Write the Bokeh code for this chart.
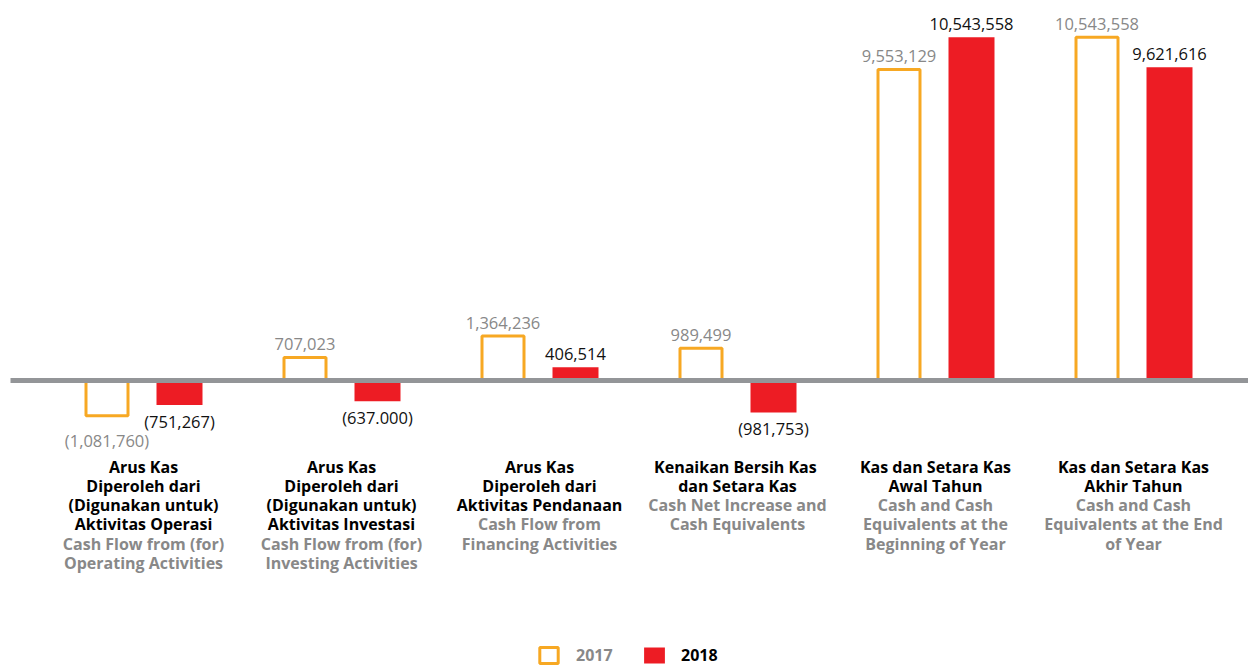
from bokeh.plotting import figure
from bokeh.models import ColumnDataSource, Range1d, Legend, LegendItem, LabelSet
from bokeh.core.properties import value
from bokeh.embed import file_html
from bokeh.resources import INLINE

# ---------------- data ----------------
categories_id = [
    ["Arus Kas", "Diperoleh dari", "(Digunakan untuk)", "Aktivitas Operasi"],
    ["Arus Kas", "Diperoleh dari", "(Digunakan untuk)", "Aktivitas Investasi"],
    ["Arus Kas", "Diperoleh dari", "Aktivitas Pendanaan"],
    ["Kenaikan Bersih  Kas", "dan Setara Kas"],
    ["Kas dan Setara Kas", "Awal Tahun"],
    ["Kas dan Setara Kas", "Akhir Tahun"],
]
categories_en = [
    ["Cash Flow from (for)", "Operating Activities"],
    ["Cash Flow from (for)", "Investing Activities"],
    ["Cash Flow from", "Financing Activities"],
    ["Cash Net Increase and", "Cash Equivalents"],
    ["Cash and Cash", "Equivalents at the", "Beginning of Year"],
    ["Cash and Cash", "Equivalents at the End", "of Year"],
]
values_2017 = [-1081760, 707023, 1364236, 989499, 9553129, 10543558]
values_2018 = [-751267, -637000, 406514, -981753, 10543558, 9621616]
labels_2017 = ["(1,081,760)", "707,023", "1,364,236", "989,499", "9,553,129", "10,543,558"]
labels_2018 = ["(751,267)", "(637.000)", "406,514", "(981,753)", "10,543,558", "9,621,616"]
series = ["2017", "2018"]

# ---------------- style ----------------
ORANGE = "#F7A823"
RED = "#ED1C24"
GRAY_LINE = "#939598"
GRAY_TXT = "#888888"
FONT = "Open Sans"

W, H = 1248, 670
px_per_cat = 198.0
scale = 343.3 / 10543558  # px per unit
base_screen = 380.0       # baseline distance from frame top

x_start = -143.0 / px_per_cat
x_end = x_start + W / px_per_cat
y_end = base_screen / scale
y_start = -(H - base_screen) / scale

p = figure(width=W, height=H, output_backend="svg", toolbar_location=None,
           x_range=Range1d(x_start, x_end), y_range=Range1d(y_start, y_end),
           x_axis_type=None, y_axis_type=None, min_border=0,
           outline_line_color=None, background_fill_color="white",
           border_fill_color="white")
p.xgrid.visible = False
p.ygrid.visible = False

n = len(values_2017)
off17 = -36.5 / px_per_cat
off18 = 36.0 / px_per_cat
w17 = 42.0 / px_per_cat
w18 = 46.0 / px_per_cat

src17 = ColumnDataSource(dict(
    x=[i + off17 for i in range(n)], top=values_2017, text=labels_2017,
    yoff=[7 if v >= 0 else -13 for v in values_2017],
    base=["bottom" if v >= 0 else "top" for v in values_2017]))
src18 = ColumnDataSource(dict(
    x=[i + off18 for i in range(n)], top=values_2018, text=labels_2018,
    yoff=[7 if v >= 0 else -5 for v in values_2018],
    base=["bottom" if v >= 0 else "top" for v in values_2018]))

r17 = p.vbar(x="x", top="top", bottom=0, width=w17, source=src17,
             fill_color="white", line_color=ORANGE, line_width=3)
r18 = p.vbar(x="x", top="top", bottom=0, width=w18, source=src18,
             fill_color=RED, line_color=RED, line_width=0)

# zero line
p.segment(x0=[x_start + 10.0 / px_per_cat], x1=[x_end], y0=[0], y1=[0],
          line_color=GRAY_LINE, line_width=5)

p.add_layout(LabelSet(x="x", y="top", text="text", source=src17, y_offset="yoff",
                      text_baseline="base", text_align="center",
                      text_font=value(FONT), text_font_size="16.5px", text_color=GRAY_TXT))
p.add_layout(LabelSet(x="x", y="top", text="text", source=src18, y_offset="yoff",
                      text_baseline="base", text_align="center",
                      text_font=value(FONT), text_font_size="16.5px", text_color="#111111"))

# category labels
cx, cy, ct, cc, co = [], [], [], [], []
for i in range(n):
    lines = [(t, "#000000") for t in categories_id[i]] + [(t, GRAY_TXT) for t in categories_en[i]]
    for k, (t, c) in enumerate(lines):
        cx.append(i)
        cy.append(0)
        ct.append(t)
        cc.append(c)
        co.append(-(86 + 19.3 * k))
csrc = ColumnDataSource(dict(x=cx, y=cy, text=ct, color=cc, yoff=co))
p.add_layout(LabelSet(x="x", y="y", text="text", source=csrc, y_offset="yoff",
                      text_align="center", text_baseline="middle",
                      text_font=value(FONT), text_font_size="16px", text_font_style="bold",
                      text_color="color"))

# legend
leg1 = Legend(items=[LegendItem(label=series[0], renderers=[r17])],
              location=(537, 4), orientation="horizontal", glyph_width=23, glyph_height=20,
              label_standoff=16, padding=0, margin=0, border_line_color=None,
              background_fill_alpha=0, label_text_font=FONT, label_text_font_size="16px",
              label_text_font_style="bold", label_text_color=GRAY_TXT)
leg2 = Legend(items=[LegendItem(label=series[1], renderers=[r18])],
              location=(641, 4), orientation="horizontal", glyph_width=26, glyph_height=20,
              label_standoff=14, padding=0, margin=0, border_line_color=None,
              background_fill_alpha=0, label_text_font=FONT, label_text_font_size="16px",
              label_text_font_style="bold", label_text_color="#000000")
p.add_layout(leg1)
p.add_layout(leg2)

open("out.html", "w").write(file_html(p, INLINE))
